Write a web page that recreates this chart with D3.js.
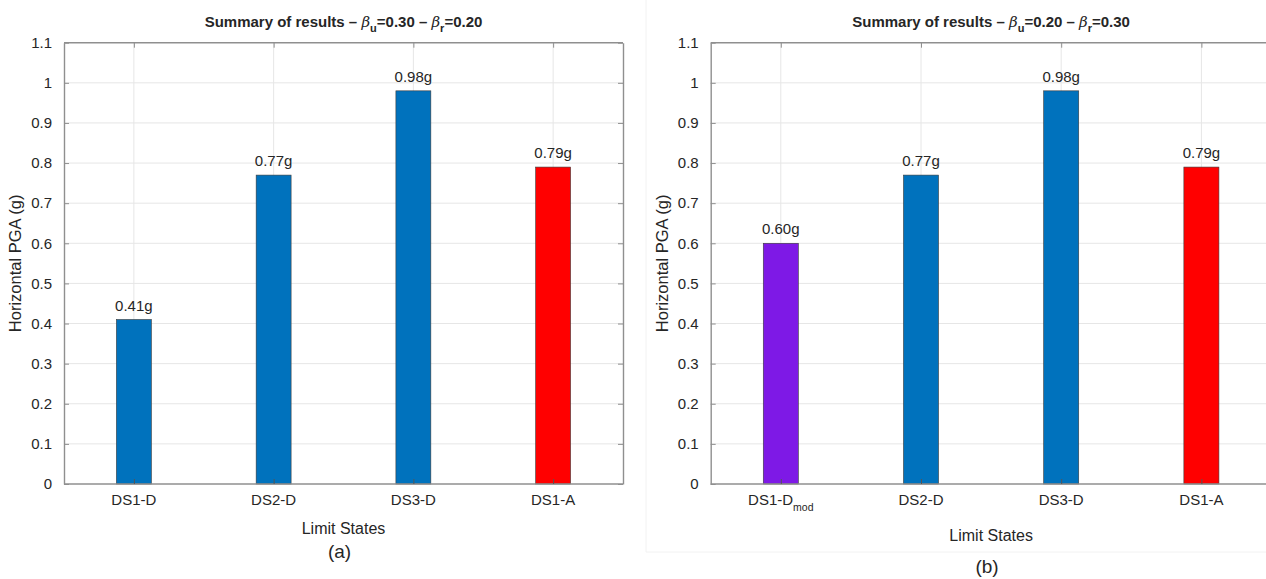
<!DOCTYPE html>
<html>
<head>
<meta charset="utf-8">
<script src="https://cdn.jsdelivr.net/npm/d3@7"></script>
<style>
  html, body { margin: 0; padding: 0; background: #fff; }
  svg { display: block; }
  text { font-family: "Liberation Sans", Arial, Helvetica, sans-serif; fill: #262626; }
</style>
</head>
<body>
<svg id="fig" width="1266" height="579"></svg>
<script>
// Limit-state categories and median PGA capacities (g)
const categoriesA = ["DS1-D", "DS2-D", "DS3-D", "DS1-A"];
const valuesA = [0.41, 0.77, 0.98, 0.79];
const colorsA = ["#0072BD", "#0072BD", "#0072BD", "#FF0000"];

const categoriesB = ["DS1-Dmod", "DS2-D", "DS3-D", "DS1-A"];
const valuesB = [0.60, 0.77, 0.98, 0.79];
const colorsB = ["#7E19E6", "#0072BD", "#0072BD", "#FF0000"];

const yTicks = [0, 0.1, 0.2, 0.3, 0.4, 0.5, 0.6, 0.7, 0.8, 0.9, 1, 1.1];
const yTickLabels = ["0", "0.1", "0.2", "0.3", "0.4", "0.5", "0.6", "0.7", "0.8", "0.9", "1", "1.1"];

const titleA = { bu: "0.30", br: "0.20" };
const titleB = { bu: "0.20", br: "0.30" };

const svg = d3.select("#fig");

// faint frame of the second figure panel
svg.append("path")
  .attr("d", "M646,0 V552 H1266")
  .attr("fill", "none").attr("stroke", "#f2f2f2").attr("stroke-width", 1);

function panel(opt) {
  const { left, step, top, bottom, cats, vals, cols, title, xlabelY, tag, tagY } = opt;
  const right = left + step * cats.length;
  const g = svg.append("g");

  const x = d3.scalePoint().domain(cats).range([left, right]).padding(0.5);
  const y = d3.scaleLinear().domain([0, 1.1]).range([bottom, top]);
  const barW = step * 0.25;

  // grid
  g.append("g").selectAll("line").data(yTicks.slice(1, -1)).join("line")
    .attr("x1", left).attr("x2", right)
    .attr("y1", d => y(d)).attr("y2", d => y(d))
    .attr("stroke", "#e6e6e6").attr("stroke-width", 1);
  g.append("g").selectAll("line").data(cats).join("line")
    .attr("x1", d => x(d)).attr("x2", d => x(d))
    .attr("y1", top).attr("y2", bottom)
    .attr("stroke", "#e6e6e6").attr("stroke-width", 1);

  // bars
  g.append("g").selectAll("rect").data(cats).join("rect")
    .attr("x", d => x(d) - barW / 2)
    .attr("width", barW)
    .attr("y", (d, i) => y(vals[i]))
    .attr("height", (d, i) => y(0) - y(vals[i]))
    .attr("fill", (d, i) => cols[i])
    .attr("stroke", "#3a3a3a").attr("stroke-width", 0.6);

  // value labels
  g.append("g").selectAll("text").data(cats).join("text")
    .attr("x", d => x(d))
    .attr("y", (d, i) => y(vals[i]) - 9)
    .attr("text-anchor", "middle")
    .attr("font-size", 15)
    .text((d, i) => vals[i].toFixed(2) + "g");

  const axisColor = "#8f8f8f";

  // left axis with inward ticks
  const yAxisL = d3.axisLeft(y).tickValues(yTicks)
    .tickFormat((d, i) => yTickLabels[i]).tickSizeInner(-5).tickSizeOuter(0).tickPadding(12);
  const gl = g.append("g").attr("transform", `translate(${left},0)`).call(yAxisL);
  gl.select(".domain").attr("stroke", axisColor).attr("stroke-width", 1.4);
  gl.selectAll(".tick line").attr("stroke", axisColor);
  gl.selectAll(".tick text").attr("font-size", 15).attr("fill", "#262626")
    .attr("font-family", '"Liberation Sans", Arial, sans-serif');

  // right axis ticks
  const yAxisR = d3.axisRight(y).tickValues(yTicks).tickFormat("").tickSizeInner(-5).tickSizeOuter(0);
  const gr = g.append("g").attr("transform", `translate(${right},0)`).call(yAxisR);
  gr.select(".domain").attr("stroke", axisColor).attr("stroke-width", 1.4);
  gr.selectAll(".tick line").attr("stroke", axisColor);

  // bottom axis
  const xAxisB = d3.axisBottom(x).tickSizeInner(-5).tickSizeOuter(0).tickFormat("");
  const gb = g.append("g").attr("transform", `translate(0,${bottom})`).call(xAxisB);
  gb.select(".domain").attr("stroke", axisColor).attr("stroke-width", 1.4)
    .attr("d", `M${left},0H${right}`);
  gb.selectAll(".tick line").attr("stroke", "#555");

  // top axis
  const xAxisT = d3.axisTop(x).tickSizeInner(-5).tickSizeOuter(0).tickFormat("");
  const gt = g.append("g").attr("transform", `translate(0,${top})`).call(xAxisT);
  gt.select(".domain").attr("stroke", axisColor).attr("stroke-width", 1.4)
    .attr("d", `M${left},0H${right}`);
  gt.selectAll(".tick line").attr("stroke", axisColor);

  // x tick labels (with subscript for the modified state)
  cats.forEach(c => {
    const t = g.append("text").attr("x", x(c)).attr("y", bottom + 21)
      .attr("text-anchor", "middle").attr("font-size", 15);
    if (c.endsWith("mod")) {
      t.append("tspan").text(c.slice(0, -3));
      t.append("tspan").attr("font-size", 10.5).attr("dy", 6).text("mod");
    } else {
      t.text(c);
    }
  });

  // axis titles
  const cx = (left + right) / 2;
  g.append("text").attr("x", cx).attr("y", xlabelY)
    .attr("text-anchor", "middle").attr("font-size", 16).text("Limit States");

  g.append("text")
    .attr("transform", `translate(${left - 43},${(top + bottom) / 2}) rotate(-90)`)
    .attr("text-anchor", "middle").attr("font-size", 16.5).text("Horizontal PGA (g)");

  // title with β subscripts
  const tt = g.append("text").attr("x", cx).attr("y", 27)
    .attr("text-anchor", "middle").attr("font-size", 15).attr("font-weight", "bold")
    .attr("fill", "#111");
  tt.append("tspan").text("Summary of results  \u2013  ");
  tt.append("tspan").attr("font-family", '"DejaVu Serif", serif').attr("font-style", "italic")
    .attr("font-weight", "normal").text("\u03B2");
  tt.append("tspan").attr("font-size", 11).attr("dy", 5).text("u");
  tt.append("tspan").attr("dy", -5).text("=" + title.bu + " \u2013 ");
  tt.append("tspan").attr("font-family", '"DejaVu Serif", serif').attr("font-style", "italic")
    .attr("font-weight", "normal").text("\u03B2");
  tt.append("tspan").attr("font-size", 11).attr("dy", 5).text("r");
  tt.append("tspan").attr("dy", -5).text("=" + title.br);

  // panel tag
  g.append("text").attr("x", cx - 4).attr("y", tagY)
    .attr("text-anchor", "middle").attr("font-size", 19)
    .attr("font-family", '"Open Sans", "Noto Sans", sans-serif')
    .attr("fill", "#000").text(tag);
}

panel({ left: 64, step: 139.75, top: 42.7, bottom: 484, cats: categoriesA, vals: valuesA,
        cols: colorsA, title: titleA, xlabelY: 534, tag: "(a)", tagY: 558 });
panel({ left: 710.7, step: 140.2, top: 42.7, bottom: 484, cats: categoriesB, vals: valuesB,
        cols: colorsB, title: titleB, xlabelY: 541, tag: "(b)", tagY: 573 });
</script>
</body>
</html>
